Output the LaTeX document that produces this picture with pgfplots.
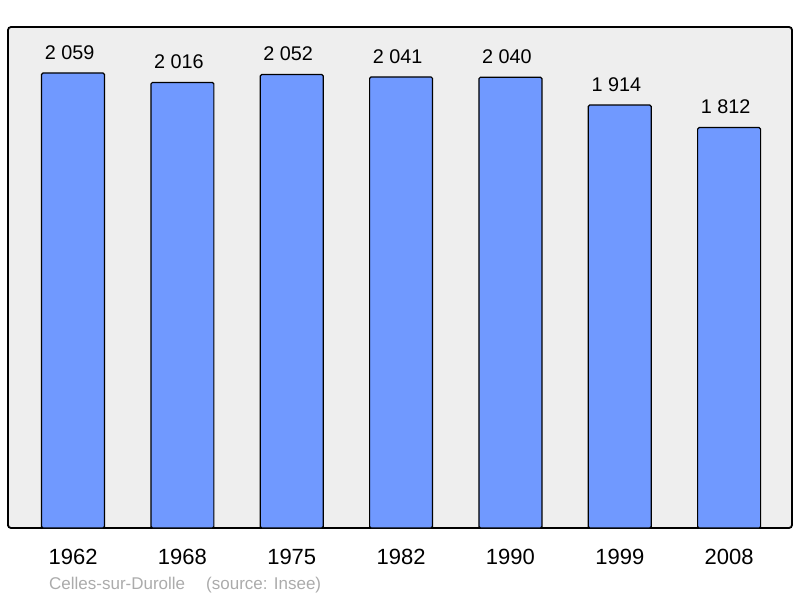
\documentclass[border=0pt]{standalone}
\usepackage{pgfplots}
\pgfplotsset{compat=1.18}
\usepackage{fontspec}
\setmainfont{Liberation Sans}
\definecolor{bgc}{HTML}{EEEEEE}
\definecolor{barc}{HTML}{7099FF}
\definecolor{capc}{HTML}{ABABAB}
\begin{document}
\begin{tikzpicture}
\path[use as bounding box] (-8pt,-70pt) rectangle (792pt,528pt);
\begin{axis}[
  at={(0pt,0pt)}, anchor=south west,
  scale only axis, width=784pt, height=501pt,
  xmin=-0.595, xmax=6.575, ymin=0, ymax=2267,
  axis background/.style={fill=bgc},
  axis line style={line width=1.8pt, rounded corners=3pt},
  xtick={0,1,2,3,4,5,6},
  xticklabels={1962,1968,1975,1982,1990,1999,2008},
  ytick=\empty,
  major tick length=0pt,
  xticklabel style={font=\fontsize{22}{26}\selectfont, inner sep=0pt, anchor=north, yshift=-20.5pt},
  nodes near coords={\pgfmathprintnumber[1000 sep={\ },assume math mode=true]{\pgfplotspointmeta}},
  every node near coord/.style={font=\fontsize{19.8}{23}\selectfont, anchor=south, inner sep=0pt, yshift=13pt, xshift=-3.5pt, text=black},
  clip=false,
]
\addplot[ybar, bar width=0.576, draw=black, line width=1.2pt, fill=barc, rounded corners=1.5pt]
coordinates {(0,2059) (1,2016) (2,2052) (3,2041) (4,2040) (5,1914) (6,1812)};
\end{axis}
\node[anchor=base west, inner sep=0pt, text=capc, font=\fontsize{17}{20}\selectfont] at (41pt,-61pt) {Celles-sur-Durolle};
\node[anchor=base west, inner sep=0pt, text=capc, font=\fontsize{17}{20}\selectfont] at (198pt,-61pt) {(source: Insee)};
\end{tikzpicture}
\end{document}
